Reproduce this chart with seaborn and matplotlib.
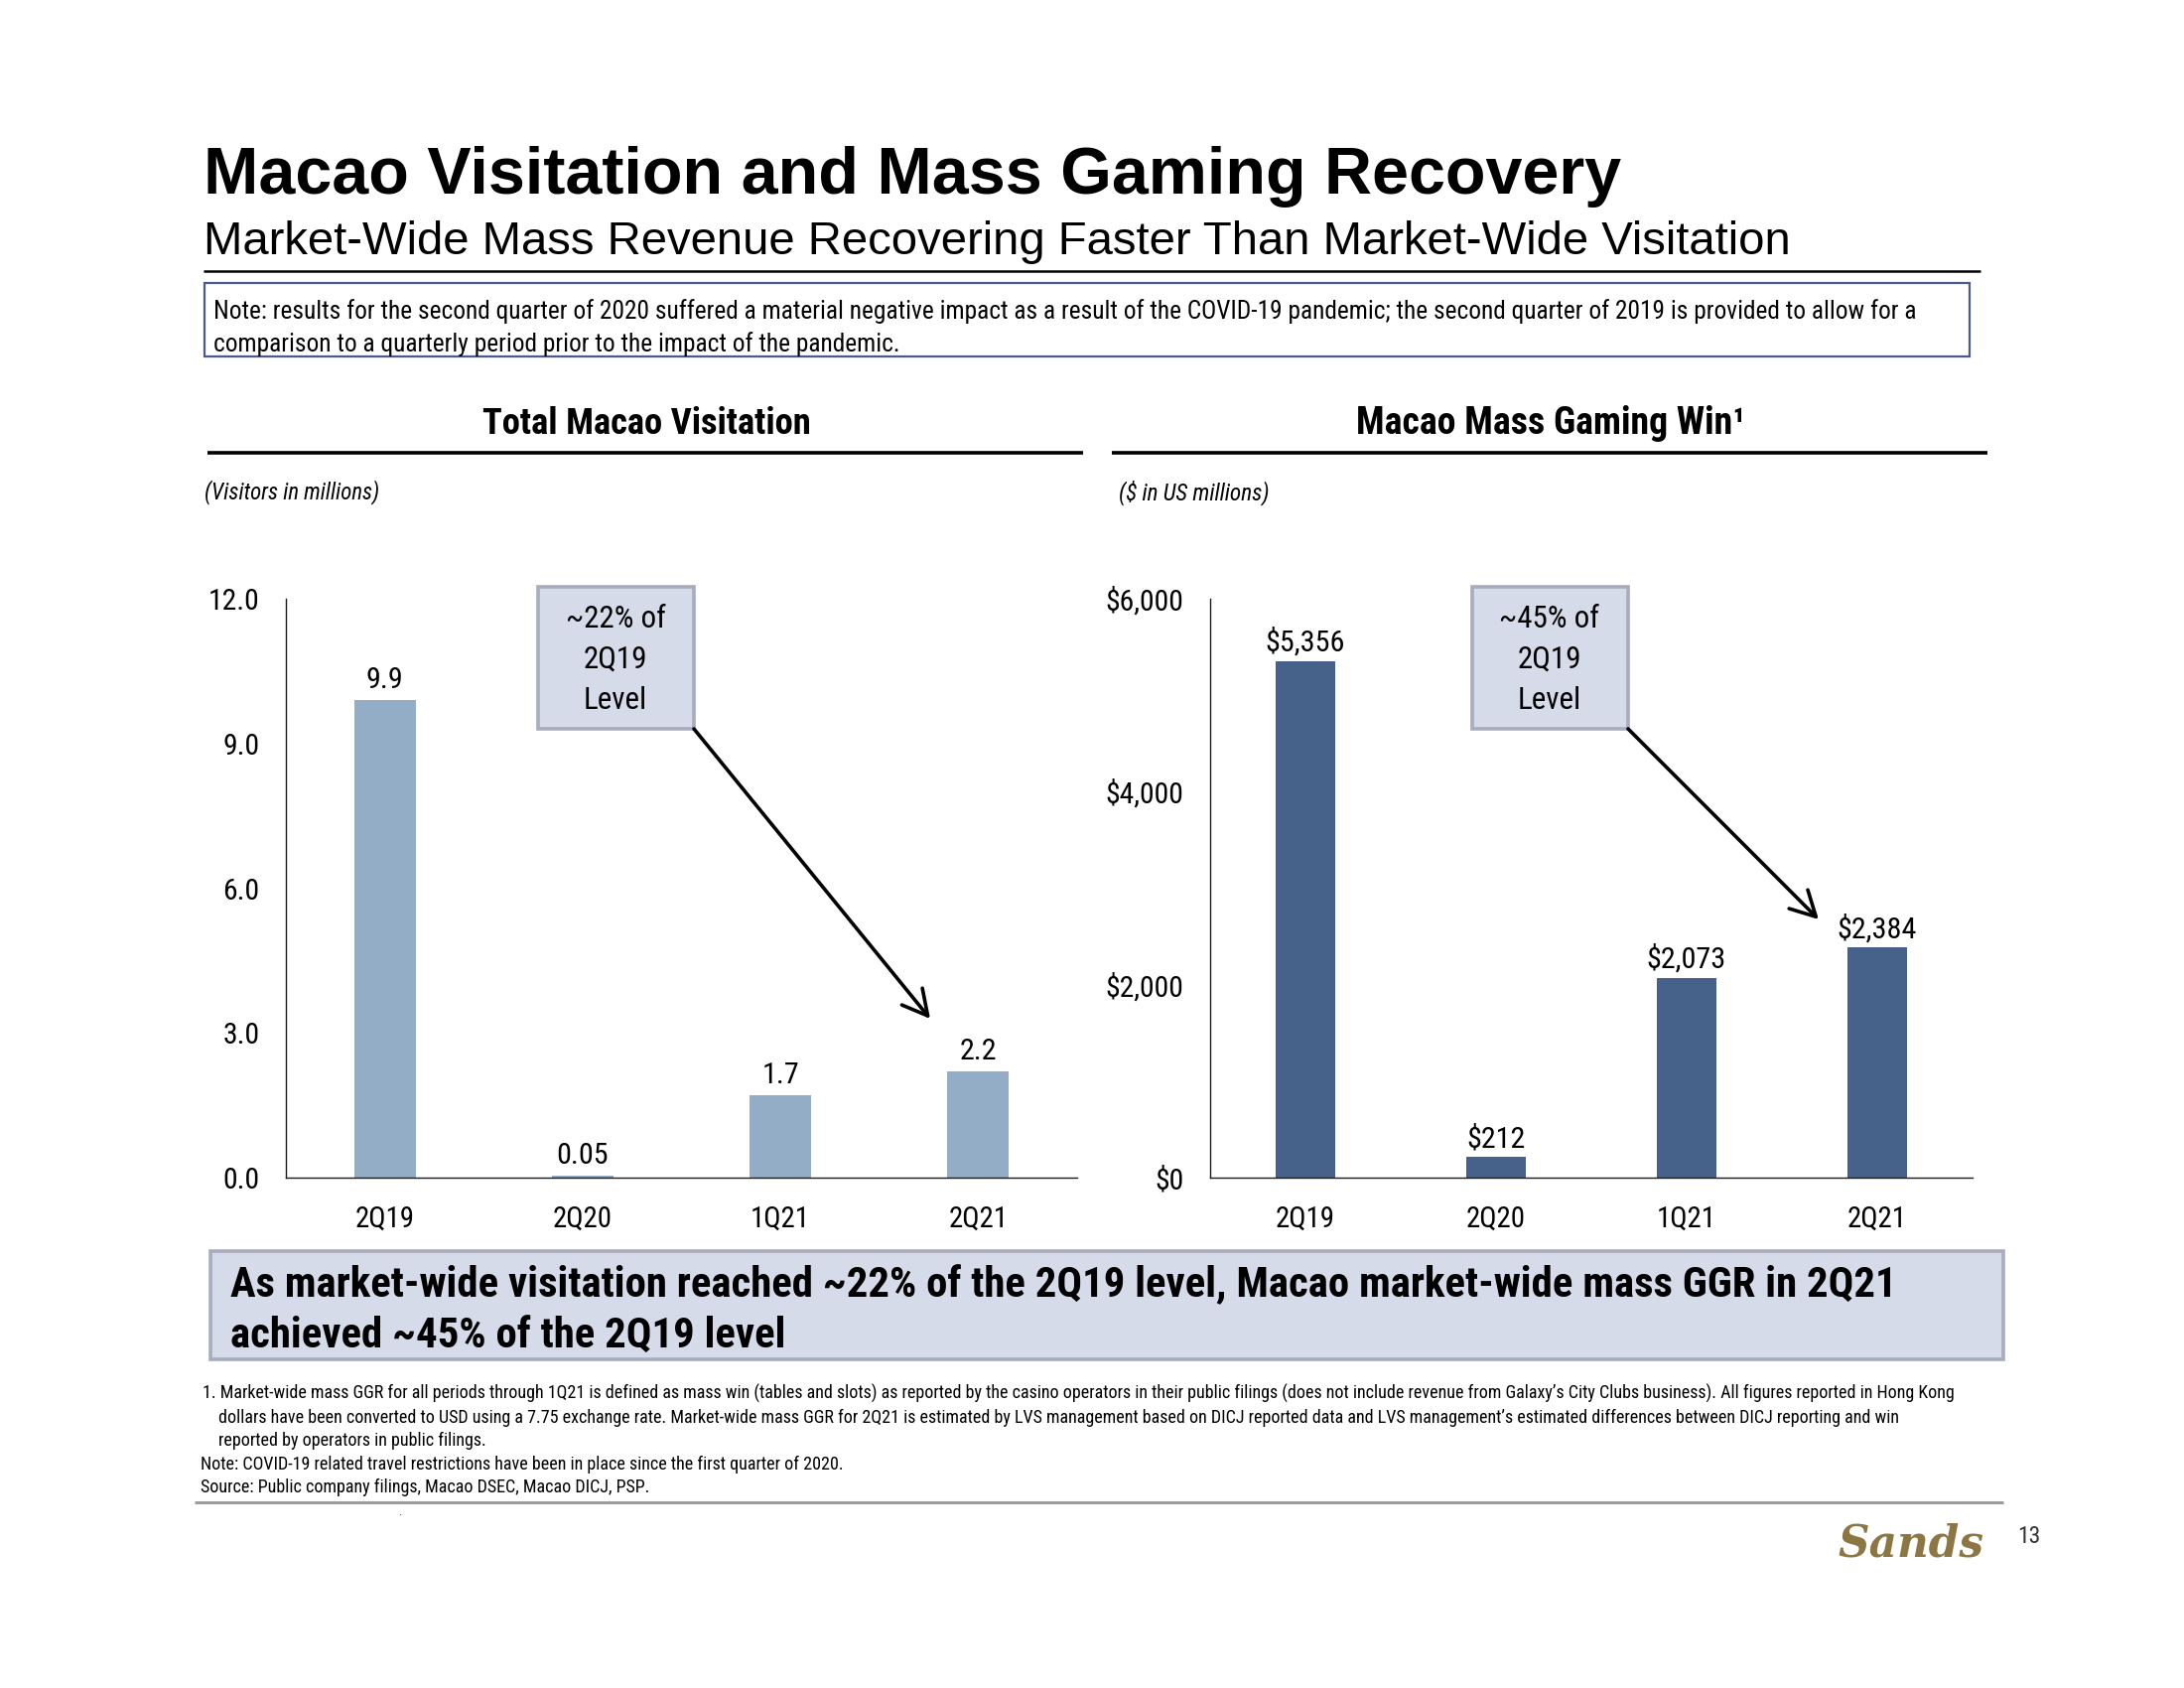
import numpy as np
import pandas as pd
import matplotlib
matplotlib.use("Agg")
import matplotlib.pyplot as plt
import seaborn as sns
from matplotlib import font_manager as fm
from matplotlib.patches import Rectangle, FancyArrowPatch
from matplotlib.lines import Line2D

# ---------------- data ----------------
categories = ["2Q19", "2Q20", "1Q21", "2Q21"]
visitation = [9.9, 0.05, 1.7, 2.2]
visitation_labels = ["9.9", "0.05", "1.7", "2.2"]
mass_win = [5356, 212, 2073, 2384]
mass_win_labels = ["$5,356", "$212", "$2,073", "$2,384"]
visit_ticks = [0, 3, 6, 9, 12]
visit_ticklabels = ["0.0", "3.0", "6.0", "9.0", "12.0"]
win_ticks = [0, 2000, 4000, 6000]
win_ticklabels = ["$0", "$2,000", "$4,000", "$6,000"]

title = "Macao Visitation and Mass Gaming Recovery"
subtitle = "Market-Wide Mass Revenue Recovering Faster Than Market-Wide Visitation"
note_lines = [
    "Note: results for the second quarter of 2020 suffered a material negative impact as a result of the COVID-19 pandemic; the second quarter of 2019 is provided to allow for a",
    "comparison to a quarterly period prior to the impact of the pandemic.",
]
left_header = "Total Macao Visitation"
right_header = "Macao Mass Gaming Win\u00b9"
left_unit = "(Visitors in millions)"
right_unit = "($ in US millions)"
left_callout = ["~22% of", "2Q19", "Level"]
right_callout = ["~45% of", "2Q19", "Level"]
takeaway = [
    "As market-wide visitation reached ~22% of the 2Q19 level, Macao market-wide mass GGR in 2Q21",
    "achieved ~45% of the 2Q19 level",
]
footnotes = [
    "1. Market-wide mass GGR for all periods through 1Q21 is defined as mass win (tables and slots) as reported by the casino operators in their public filings (does not include revenue from Galaxy\u2019s City Clubs business). All figures reported in Hong Kong",
    "dollars have been converted to USD using a 7.75 exchange rate. Market-wide mass GGR for 2Q21 is estimated by LVS management based on DICJ reported data and LVS management\u2019s estimated differences between DICJ reporting and win",
    "reported by operators in public filings.",
    "Note: COVID-19 related travel restrictions have been in place since the first quarter of 2020.",
    "Source: Public company filings, Macao DSEC, Macao DICJ, PSP.",
]

# ---------------- style ----------------
sns.set_theme(style="white")
entries = fm.fontManager.ttflist
names = {f.name for f in entries}
NARROW, STRETCH = None, "normal"
for n in ["Liberation Sans Narrow", "Arial Narrow", "Roboto Condensed", "Open Sans Condensed"]:
    if n in names:
        NARROW = n
        break
if NARROW is None:
    for fam in ["DejaVu Sans", "Noto Sans", "Roboto", "Open Sans", "Liberation Sans"]:
        hits = [f for f in entries if f.name == fam and "condensed" in str(f.stretch)
                and "extra" not in str(f.stretch) and "ultra" not in str(f.stretch)]
        if hits:
            NARROW = fam
            STRETCH = "condensed" if any(f.stretch == "condensed" for f in hits) else hits[0].stretch
            break
WIDE = "Liberation Sans" if "Liberation Sans" in names else "DejaVu Sans"
if NARROW is None:
    NARROW = WIDE
plt.rcParams["font.family"] = [NARROW, "DejaVu Sans"]
plt.rcParams["font.stretch"] = STRETCH
plt.rcParams["text.parse_math"] = False
plt.rcParams["text.color"] = "black"

LIGHT = "#93ADC6"
DARK = "#46628A"
BOXFACE = "#D6DBE9"
BOXEDGE = "#A8ACBD"
NOTEEDGE = "#4B5A86"

W, H = 2200, 1700
fig = plt.figure(figsize=(22, 17), dpi=100)
fig.patch.set_facecolor("white")


def fx(x):
    return x / W


def fy(y):
    return 1 - y / H


def ax_px(l, t, r, b):
    return fig.add_axes([l / W, 1 - b / H, (r - l) / W, (b - t) / H])


def hline(x0, x1, y, color="black", lw=2.0):
    fig.add_artist(Line2D([fx(x0), fx(x1)], [fy(y), fy(y)], transform=fig.transFigure,
                          color=color, lw=lw, solid_capstyle="butt"))


def rect(x0, y0, x1, y1, face, edge, lw):
    fig.add_artist(Rectangle((fx(x0), fy(y1)), (x1 - x0) / W, (y1 - y0) / H,
                             transform=fig.transFigure, facecolor=face, edgecolor=edge, lw=lw))


def arrow(x0, y0, x1, y1):
    fig.add_artist(FancyArrowPatch((fx(x0), fy(y0)), (fx(x1), fy(y1)), transform=fig.transFigure,
                                   arrowstyle="->,head_length=0.75,head_width=0.4", mutation_scale=24,
                                   lw=2.6, color="black", shrinkA=0, shrinkB=0))


fits = []  # (text, target width px, [followers])

# title block
t_title = fig.text(fx(205), fy(195), title, family=[WIDE], stretch="normal", weight="bold", size=44,
                   va="baseline")
fits.append((t_title, 1427))
t_sub = fig.text(fx(205), fy(256), subtitle, family=[WIDE], stretch="normal", size=30, va="baseline")
fits.append((t_sub, 1598))
hline(205, 1995, 273, lw=1.8)

# note box
rect(206, 285, 1984, 359, "white", NOTEEDGE, 1.6)
t_n1 = fig.text(fx(215), fy(321), note_lines[0], size=17, va="baseline")
t_n2 = fig.text(fx(215), fy(354), note_lines[1], size=17, va="baseline")
fits.append((t_n1, 1716, [t_n2]))

# chart headers
t_lh = fig.text(fx(651), fy(437), left_header, weight="bold", size=23, ha="center", va="baseline")
t_rh = fig.text(fx(1562), fy(437), right_header, weight="bold", size=23, ha="center", va="baseline")
fits.append((t_lh, 333))
fits.append((t_rh, 393))
hline(209, 1091, 456, lw=2.6)
hline(1120, 2002, 456, lw=2.6)
t_lu = fig.text(fx(206), fy(496), left_unit, style="italic", size=14, va="center")
t_ru = fig.text(fx(1127), fy(496), right_unit, style="italic", size=14, va="center")
fits.append((t_lu, 177))
fits.append((t_ru, 153))

# ---------------- bar charts ----------------
axL = ax_px(288, 603, 1085, 1186)
axR = ax_px(1219, 603, 1987, 1186)

df_v = pd.DataFrame({"quarter": categories, "value": visitation})
df_w = pd.DataFrame({"quarter": categories, "value": mass_win})
sns.barplot(data=df_v, x="quarter", y="value", order=categories, color=LIGHT, saturation=1,
            width=0.31, errorbar=None, ax=axL, linewidth=0)
sns.barplot(data=df_w, x="quarter", y="value", order=categories, color=DARK, saturation=1,
            width=0.31, errorbar=None, ax=axR, linewidth=0)

vlabels_all = []
for ax, lims, ticks, tlabels, vlabels, off in [
    (axL, (0, 12), visit_ticks, visit_ticklabels, visitation_labels, 12),
    (axR, (0, 6000), win_ticks, win_ticklabels, mass_win_labels, 10),
]:
    ax.set_xlim(-0.5, 3.5)
    ax.set_ylim(*lims)
    ax.set_yticks(ticks)
    ax.set_yticklabels(tlabels)
    ax.set_xlabel("")
    ax.set_ylabel("")
    ax.set_facecolor("none")
    for s in ["top", "right"]:
        ax.spines[s].set_visible(False)
    for s in ["left", "bottom"]:
        ax.spines[s].set_color("#1a1a1a")
        ax.spines[s].set_linewidth(1.0)
    ax.tick_params(axis="y", length=0, pad=19, labelsize=20, colors="black")
    ax.tick_params(axis="x", length=0, pad=20, labelsize=20, colors="black")
    for p, lab in zip(ax.patches, vlabels):
        t = ax.annotate(lab, (p.get_x() + p.get_width() / 2, p.get_height()), xytext=(0, off),
                        textcoords="offset pixels", ha="center", va="baseline", size=20)
        vlabels_all.append(t)

# callout boxes and arrows
callout_texts = []
rect(542, 591, 699, 734, BOXFACE, BOXEDGE, 2.6)
rect(1483, 591, 1640, 734, BOXFACE, BOXEDGE, 2.6)
for cx, lines in [(620, left_callout), (1561, right_callout)]:
    for yy, s in zip([624, 664, 705], lines):
        callout_texts.append(fig.text(fx(cx), fy(yy), s, ha="center", va="center", size=20))
arrow(699, 734, 937, 1026)
arrow(1640, 734, 1832, 926)

# takeaway box
rect(212, 1260, 2018, 1369, BOXFACE, BOXEDGE, 2.6)
t_k1 = fig.text(fx(232), fy(1306), takeaway[0], weight="bold", size=28, va="baseline")
t_k2 = fig.text(fx(232), fy(1357), takeaway[1], weight="bold", size=28, va="baseline")
fits.append((t_k1, 1681, [t_k2]))

# footnotes
fn_pos = [(204, 1409), (220, 1433), (220, 1456), (202, 1480), (202, 1503)]
fn_texts = [fig.text(fx(x), fy(y), s, size=12.5, va="baseline") for (x, y), s in zip(fn_pos, footnotes)]
fits.append((fn_texts[0], 1775, fn_texts[1:]))
hline(196, 2018, 1513, color="#9B9B9B", lw=2.2)
fig.text(fx(403), fy(1526), ".", size=9, ha="center", va="baseline", color="#444444")

# logo & page number
t_logo = fig.text(fx(1925), fy(1555), "Sands", family=["DejaVu Serif"], stretch="normal", style="italic",
                  weight="bold", size=28, ha="center", va="center", color="#8B7644")
fits.append((t_logo, 147))
fig.text(fx(2044), fy(1548), "13", size=17, ha="center", va="center", color="#333333")

# ---------------- fit text widths ----------------
fig.canvas.draw()
r = fig.canvas.get_renderer()


def scale_to(t, target):
    w = t.get_window_extent(renderer=r).width
    return t.get_fontsize() * target / w


for item in fits:
    t, target = item[0], item[1]
    new = scale_to(t, target)
    t.set_fontsize(new)
    if len(item) > 2:
        for o in item[2]:
            o.set_fontsize(new)

tl_right = [t for t in axR.get_yticklabels() if t.get_text() == "$6,000"]
if tl_right:
    ys = scale_to(tl_right[0], 79)
    for ax in (axL, axR):
        ax.tick_params(axis="y", labelsize=ys)
xl = axL.get_xticklabels()[0]
xs = scale_to(xl, 60)
for ax in (axL, axR):
    ax.tick_params(axis="x", labelsize=xs)
vs = scale_to(vlabels_all[4], 80)
for t in vlabels_all:
    t.set_fontsize(vs)
cs = scale_to(callout_texts[0], 101)
for t in callout_texts:
    t.set_fontsize(cs)

fig.savefig("out.png", dpi=100, facecolor="white")
